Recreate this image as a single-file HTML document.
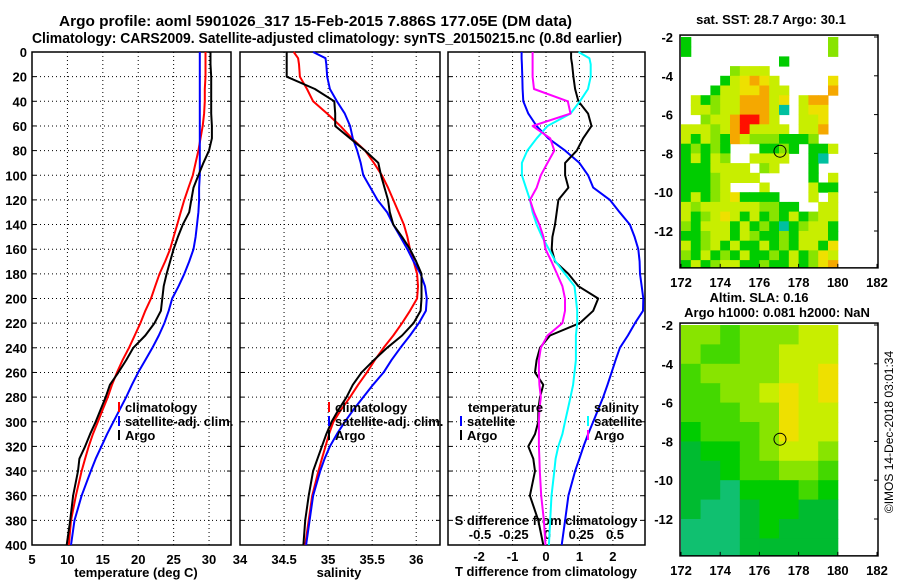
<!DOCTYPE html>
<html><head><meta charset="utf-8"><style>
body{margin:0;background:#fff}
svg{display:block;font-family:"Liberation Sans",sans-serif;font-weight:bold}
</style></head><body>
<svg id="chart" width="900" height="580" viewBox="0 0 900 580" xmlns="http://www.w3.org/2000/svg">
<text x="59" y="26" font-size="14.5" textLength="513" lengthAdjust="spacingAndGlyphs">Argo profile: aoml 5901026_317 15-Feb-2015 7.886S 177.05E (DM data)</text>
<text x="32" y="43" font-size="14.5" textLength="590" lengthAdjust="spacingAndGlyphs">Climatology: CARS2009. Satellite-adjusted climatology: synTS_20150215.nc (0.8d earlier)</text>
<g id="g"></g>
<text x="0" y="0" font-size="12" font-weight="normal" transform="translate(893,432) rotate(-90)" text-anchor="middle">©IMOS 14-Dec-2018 03:01:34</text>
</svg>
<script>
const depths=[0,5,10,20,30,40,50,60,70,80,90,100,110,120,130,140,150,160,170,180,190,200,210,220,230,240,250,260,270,280,290,300,310,320,330,340,360,380,400];
const tempClim=[29.5,29.5,29.5,29.5,29.4,29.4,29.3,29.1,28.8,28.5,28.1,27.7,27.1,26.5,26.0,25.5,25.0,24.5,23.8,23.0,22.4,21.8,21.0,20.3,19.5,18.7,17.8,17.0,16.3,15.7,15.0,14.3,13.6,13.0,12.5,12.0,11.2,10.5,10.2];
const tempSat=[28.7,28.7,28.7,28.7,28.7,28.7,28.7,28.7,28.7,28.7,28.7,28.7,28.6,28.6,28.5,28.3,28.1,27.8,27.2,26.5,25.7,24.8,24.3,23.7,22.9,22.0,21.0,20.0,19.1,18.3,17.4,16.5,15.6,14.8,14.0,13.3,12.0,11.0,10.5];
const tempArgo=[30.2,30.2,30.2,30.3,30.3,30.3,30.3,30.4,30.4,30.0,29.2,28.5,27.8,27.5,27.2,26.3,25.6,25.0,24.5,24.0,23.6,23.4,23.2,22.3,21.0,19.3,18.3,17.2,16.0,15.4,14.7,14.0,13.2,12.5,11.7,11.5,10.8,10.4,9.9];
const salClim=[34.61,34.66,34.67,34.68,34.76,34.83,34.99,35.14,35.27,35.42,35.52,35.61,35.68,35.74,35.80,35.86,35.90,35.93,35.97,36.01,36.02,36.01,35.93,35.84,35.74,35.63,35.53,35.44,35.34,35.25,35.15,35.06,35.01,34.97,34.93,34.89,34.82,34.78,34.74];
const salSat=[34.83,34.97,34.98,34.99,35.02,35.10,35.19,35.25,35.28,35.33,35.37,35.40,35.48,35.56,35.67,35.74,35.82,35.90,35.97,36.05,36.10,36.12,36.11,36.03,35.93,35.82,35.72,35.63,35.51,35.40,35.29,35.19,35.10,35.02,34.96,34.91,34.83,34.79,34.75];
const salArgo=[34.53,34.53,34.53,34.53,34.85,35.07,35.08,35.08,35.25,35.42,35.57,35.60,35.64,35.68,35.70,35.74,35.84,35.93,36.00,36.06,36.06,36.06,36.05,35.97,35.84,35.67,35.52,35.38,35.28,35.21,35.12,35.04,34.98,34.93,34.88,34.83,34.78,34.74,34.72];
const dTSat=[-0.73,-0.73,-0.72,-0.71,-0.70,-0.68,-0.53,-0.28,0.07,0.57,1.0,1.26,1.41,1.91,2.2,2.51,2.65,2.76,2.8,2.81,2.86,2.91,2.9,2.66,2.45,2.21,2.08,1.96,1.84,1.71,1.56,1.41,1.26,1.12,1.0,0.87,0.67,0.57,0.47];
const dTArgo=[0.75,0.75,0.78,0.82,0.87,0.97,1.26,1.36,1.11,0.92,0.57,0.57,0.67,0.37,0.32,0.27,0.19,0.17,0.27,0.67,0.97,1.56,1.41,1.01,0.12,-0.18,-0.28,-0.33,-0.08,-0.18,-0.23,-0.23,-0.33,-0.53,-0.38,-0.33,-0.48,-0.23,-0.08];
const dSSat=[0.23,0.31,0.32,0.32,0.30,0.24,0.17,0.0,-0.08,-0.15,-0.19,-0.19,-0.16,-0.13,-0.11,-0.08,-0.04,0.01,0.06,0.13,0.2,0.21,0.22,0.22,0.21,0.21,0.21,0.2,0.19,0.17,0.15,0.13,0.11,0.08,0.06,0.05,0.03,0.02,0.01];
const dSArgo=[-0.11,-0.11,-0.11,-0.11,-0.10,0.15,0.17,-0.11,0.02,0.05,0.0,-0.05,-0.08,-0.13,-0.10,-0.06,-0.03,-0.015,0.03,0.07,0.11,0.13,0.13,0.11,0.0,-0.05,-0.064,-0.064,-0.06,-0.05,-0.06,-0.064,-0.064,-0.064,-0.06,-0.057,-0.047,-0.027,-0.015];
const depthTicks=[0,20,40,60,80,100,120,140,160,180,200,220,240,260,280,300,320,340,360,380,400];
const tempTicks=[5,10,15,20,25,30];
const salTicks=[34,34.5,35,35.5,36];
const dTTicks=[-2,-1,0,1,2];
const dSTicks=[-0.5,-0.25,0,0.25,0.5];
const lonTicks=[172,174,176,178,180,182];
const latTicks=[-2,-4,-6,-8,-10,-12];
const sstGrid=["g              l","g              l","          g     ","     lyyy       ","    gyYoYy     Y","   gyyYYoyy    o"," yglyyoooyY yoo "," yylyyoooyc yYY ","  lyyorroy  yyY ","yyylyoryyyy yyo ","ygylgoylllgggl  ","glglg   gglg ggy","gygyl  yyyy  gc ","gggyyyy ly   g  ","ggglyyyy     g y","gggly   y    ygg","gyglyYgggg   y y","ylyyyyyyllgg  yy","yglyYygyglgyglyy","lgyyygyglgcglyyg","gglyygylgglgyyyg","yglygyggyglgyygY","lgyglgygglgyglYy","gyglyygglggyglYo"];
const slaGrid=["llmlllyy","lmmllyyy","mllllyyY","mmllyYyY","mmmllYyy","gmmmlYyy","Gggmlyyl","GGgmmllm","GGTgggmg","GTTGggGG","TTTGgGGG","TTTGGGGG"];
const argoLon=177.05, argoLat=-7.886;

const NS="http://www.w3.org/2000/svg";
const G=document.getElementById('g');
function mk(tag,attrs,parent){const e=document.createElementNS(NS,tag);for(const k in attrs)e.setAttribute(k,attrs[k]);(parent||G).appendChild(e);return e;}
const Y0=52,Y1=545;
const yD=d=>Y0+(Y1-Y0)*d/400;
function lin(d0,d1,p0,p1){return v=>p0+(v-d0)*(p1-p0)/(d1-d0);}
const panels=[
 {x0:32,x1:231,xs:lin(5,33.1,32,231),ticks:tempTicks,name:'temperature-panel'},
 {x0:240,x1:440,xs:lin(34,36.27,240,440),ticks:salTicks,name:'salinity-panel'},
 {x0:448,x1:645,xs:lin(-2.93,2.96,448,645),ticks:dTTicks,name:'difference-panel'}];
const sX=lin(-0.5,0.5,480,615);
panels.forEach((p,i)=>{
  const pg=mk('g',{});
  
  
  depthTicks.forEach(d=>{
    if(d>0&&d<400){const l=mk('line',{x1:p.x0,x2:p.x1,y1:yD(d),y2:yD(d),stroke:'#000','stroke-width':1,'stroke-dasharray':'1,3'},pg);
      }
    const t1=mk('line',{x1:p.x0,x2:p.x0+4,y1:yD(d),y2:yD(d),stroke:'#000'},pg);
    
    const t2=mk('line',{x1:p.x1-4,x2:p.x1,y1:yD(d),y2:yD(d),stroke:'#000'},pg);
    
    if(i===0){const t=mk('text',{x:27,y:yD(d)+5,'font-size':13,'text-anchor':'end'},pg);t.textContent=d;
      }
  });
  p.ticks.forEach(v=>{
    const x=p.xs(v);
    if(x>p.x0+2&&x<p.x1-2){const l=mk('line',{x1:x,x2:x,y1:Y0,y2:Y1,stroke:'#000','stroke-dasharray':'1,3'},pg);
      }
    const t=mk('text',{x:x,y:i===2?561:564,'font-size':13,'text-anchor':'middle'},pg);
    t.textContent=v;
    
  });
  const r=mk('rect',{x:p.x0,y:Y0,width:p.x1-p.x0,height:Y1-Y0,fill:'none',stroke:'#000','stroke-width':1.5},pg);
  
});
const lbl=[['temperature (deg C)',136,577],['salinity',339,577],['T difference from climatology',546,576]];
lbl.forEach(a=>{const t=mk('text',{x:a[1],y:a[2],'font-size':13,'text-anchor':'middle'});t.textContent=a[0];
  });
dSTicks.forEach(v=>{const t=mk('text',{x:sX(v),y:539,'font-size':13,'text-anchor':'middle'});t.textContent=v;
  });
{const t=mk('text',{x:546,y:525,'font-size':13,'text-anchor':'middle'});t.textContent='S difference from climatology';
 }
function series(vals,xs,color,name){
  const pts=vals.map((v,k)=>xs(v).toFixed(1)+','+yD(depths[k]).toFixed(1)).join(' ');
  const pl=mk('polyline',{points:pts,fill:'none',stroke:color,'stroke-width':2,'stroke-linejoin':'round'});
  
}
const P=panels;
series(tempClim,P[0].xs,'#f00','temp-climatology-line');
series(tempSat,P[0].xs,'#00f','temp-satellite-line');
series(tempArgo,P[0].xs,'#000','temp-argo-line');
series(salClim,P[1].xs,'#f00','sal-climatology-line');
series(salSat,P[1].xs,'#00f','sal-satellite-line');
series(salArgo,P[1].xs,'#000','sal-argo-line');
series(dTSat,P[2].xs,'#00f','tdiff-satellite-line');
series(dTArgo,P[2].xs,'#000','tdiff-argo-line');
series(dSSat,sX,'#0ff','sdiff-satellite-line');
series(dSArgo,sX,'#f0f','sdiff-argo-line');
function legend(x,y,color,text){
  if(color){const l=mk('line',{x1:x,x2:x,y1:y-10,y2:y,stroke:color,'stroke-width':2});
    }
  const t=mk('text',{x:x+6,y:y,'font-size':13});t.textContent=text;
  
}
legend(119,412,'#f00','climatology');legend(119,426,'#00f','satellite-adj. clim.');legend(119,440,'#000','Argo');
legend(329,412,'#f00','climatology');legend(329,426,'#00f','satellite-adj. clim.');legend(329,440,'#000','Argo');
legend(462,412,null,'temperature');legend(461,426,'#00f','satellite');legend(461,440,'#000','Argo');
legend(588,412,null,'salinity');legend(588,426,'#0ff','satellite');legend(588,440,'#f0f','Argo');
const cmap={g:'#00cc00',l:'#88e400',m:'#44d800',y:'#c8ee00',Y:'#eee000',o:'#f5a800',r:'#ff1000',c:'#00c0a0',G:'#00bb30',T:'#10c070'};
function drawMap(top,grid,res,title1,name){
  const mg=mk('g',{});
  
  const lx=v=>681+(v-172)*19.6, ly=v=>top+(-2-v)*19.4;
  const yT=ly(-1.9), yB=ly(-13.9);
  grid.forEach((row,ri)=>{for(let ci=0;ci<row.length&&ci*res<8;ci++){const ch=row[ci];if(!cmap[ch])continue;
    const la=-2-ri*res, lo=172+ci*res;
    const y0=Math.max(yT,ly(la)),y1=Math.min(yB,ly(la-res));if(y1<=y0)continue;
    const r=mk('rect',{x:lx(lo),y:y0,width:19.6*res+0.5,height:y1-y0+0.5,fill:cmap[ch]},mg);
    }});
  const c=mk('circle',{cx:lx(argoLon),cy:ly(argoLat),r:6,fill:'none',stroke:'#000'},mg);
  
  const fr=mk('rect',{x:680,y:yT,width:198,height:yB-yT,fill:'none',stroke:'#000','stroke-width':1.5},mg);
  
  lonTicks.forEach(v=>{const t=mk('text',{x:lx(v),y:yB+19,'font-size':13,'text-anchor':'middle'},mg);t.textContent=v;
    
    const k=mk('line',{x1:lx(v),x2:lx(v),y1:yB,y2:yB-4,stroke:'#000'},mg);
    });
  latTicks.forEach(v=>{const t=mk('text',{x:673,y:ly(v)+5,'font-size':13,'text-anchor':'end'},mg);t.textContent=v;
    
    const k=mk('line',{x1:874,x2:878,y1:ly(v),y2:ly(v),stroke:'#000'},mg);
    });
  title1.forEach(a=>{const t=mk('text',{x:a[1],y:a[2],'font-size':13,'text-anchor':'middle'},mg);t.textContent=a[0];
    });
}
drawMap(37,sstGrid,0.5,[['sat. SST: 28.7 Argo: 30.1',771,24]],'sst-map');
drawMap(325,slaGrid,1,[['Altim. SLA: 0.16',759,302],['Argo h1000: 0.081 h2000: NaN',777,317]],'sla-map');
</script>
</body></html>
